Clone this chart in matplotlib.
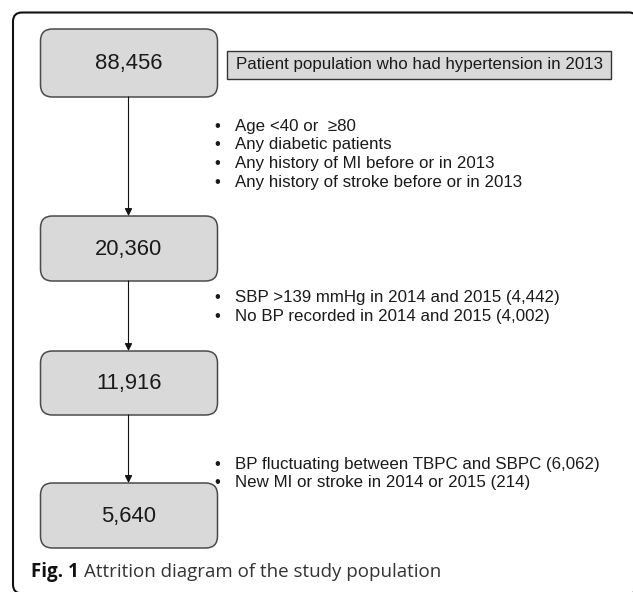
import matplotlib
matplotlib.use("Agg")
import matplotlib.pyplot as plt
from matplotlib.patches import FancyBboxPatch, Rectangle

# counts left after each step
counts = ["88,456", "20,360", "11,916", "5,640"]
start_label = "Patient population who had hypertension in 2013"

# exclusion criteria between the boxes
excl_1 = ["Age <40 or  \u226580",
          "Any diabetic patients",
          "Any history of MI before or in 2013",
          "Any history of stroke before or in 2013"]
excl_2 = ["SBP >139 mmHg in 2014 and 2015 (4,442)",
          "No BP recorded in 2014 and 2015 (4,002)"]
excl_3 = ["BP fluctuating between TBPC and SBPC (6,062)",
          "New MI or stroke in 2014 or 2015 (214)"]
exclusions = [excl_1, excl_2, excl_3]

caption_bold = "Fig. 1"
caption_rest = "Attrition diagram of the study population"

# layout (pixel units, y downwards)
W, H = 633, 592
box_x0, box_x1 = 40.5, 217.5
box_y = [(29, 97), (216, 281), (351, 415), (483, 548)]
bullet_y = [[126, 144.5, 163, 182], [297, 315.5], [464, 482.5]]
bullet_x, text_x = 217, 235
arrow_x = 128.5

fig = plt.figure(figsize=(W / 100, H / 100), dpi=100)
ax = fig.add_axes([0, 0, 1, 1])
ax.set_xlim(0, W)
ax.set_ylim(H, 0)
ax.axis("off")

# outer frame (runs off the right and bottom edge)
frame = FancyBboxPatch((13, 12.5), 625, 581, boxstyle="round,pad=0,rounding_size=9",
                       facecolor="white", edgecolor="#111111", linewidth=1.5)
ax.add_patch(frame)

for (y0, y1), c in zip(box_y, counts):
    box = FancyBboxPatch((box_x0, y0), box_x1 - box_x0, y1 - y0,
                         boxstyle="round,pad=0,rounding_size=12",
                         facecolor="#d9d9d9", edgecolor="#4a4a4a", linewidth=1.1)
    ax.add_patch(box)
    ax.text((box_x0 + box_x1) / 2, (y0 + y1) / 2 + 1, c, ha="center", va="center",
            fontsize=15.8, family="Liberation Sans", color="#1a1a1a")

# arrows between boxes
for i in range(len(box_y) - 1):
    ax.annotate("", xy=(arrow_x, box_y[i + 1][0]), xytext=(arrow_x, box_y[i][1]),
                arrowprops=dict(arrowstyle="-|>", color="#111111", lw=0.8,
                                mutation_scale=11, shrinkA=0, shrinkB=0))

# starting population label
ax.add_patch(Rectangle((227, 50.5), 384, 28.5, facecolor="#d9d9d9",
                       edgecolor="#333333", linewidth=1.0))
ax.text(236, 65, start_label, ha="left", va="center", fontsize=12.2,
        family="Liberation Sans", color="#1a1a1a")

for lines, ys in zip(exclusions, bullet_y):
    for s, y in zip(lines, ys):
        ax.text(bullet_x, y + 5, "\u2022", ha="center", va="baseline", fontsize=12,
                family="Liberation Sans", color="#1a1a1a")
        ax.text(text_x, y + 5, s, ha="left", va="baseline", fontsize=12.2,
                family="Liberation Sans", color="#1a1a1a")

# caption
t1 = ax.text(31, 572, caption_bold, ha="left", va="center", fontsize=13.5,
             family="Open Sans", weight="bold", color="#111111")
fig.canvas.draw()
bb = t1.get_window_extent()
x_end = ax.transData.inverted().transform((bb.x1, bb.y0))[0] + 5
ax.text(x_end, 572, caption_rest, ha="left", va="center", fontsize=13.5,
        family="Open Sans", color="#333333")

fig.savefig("out.png", dpi=100)
